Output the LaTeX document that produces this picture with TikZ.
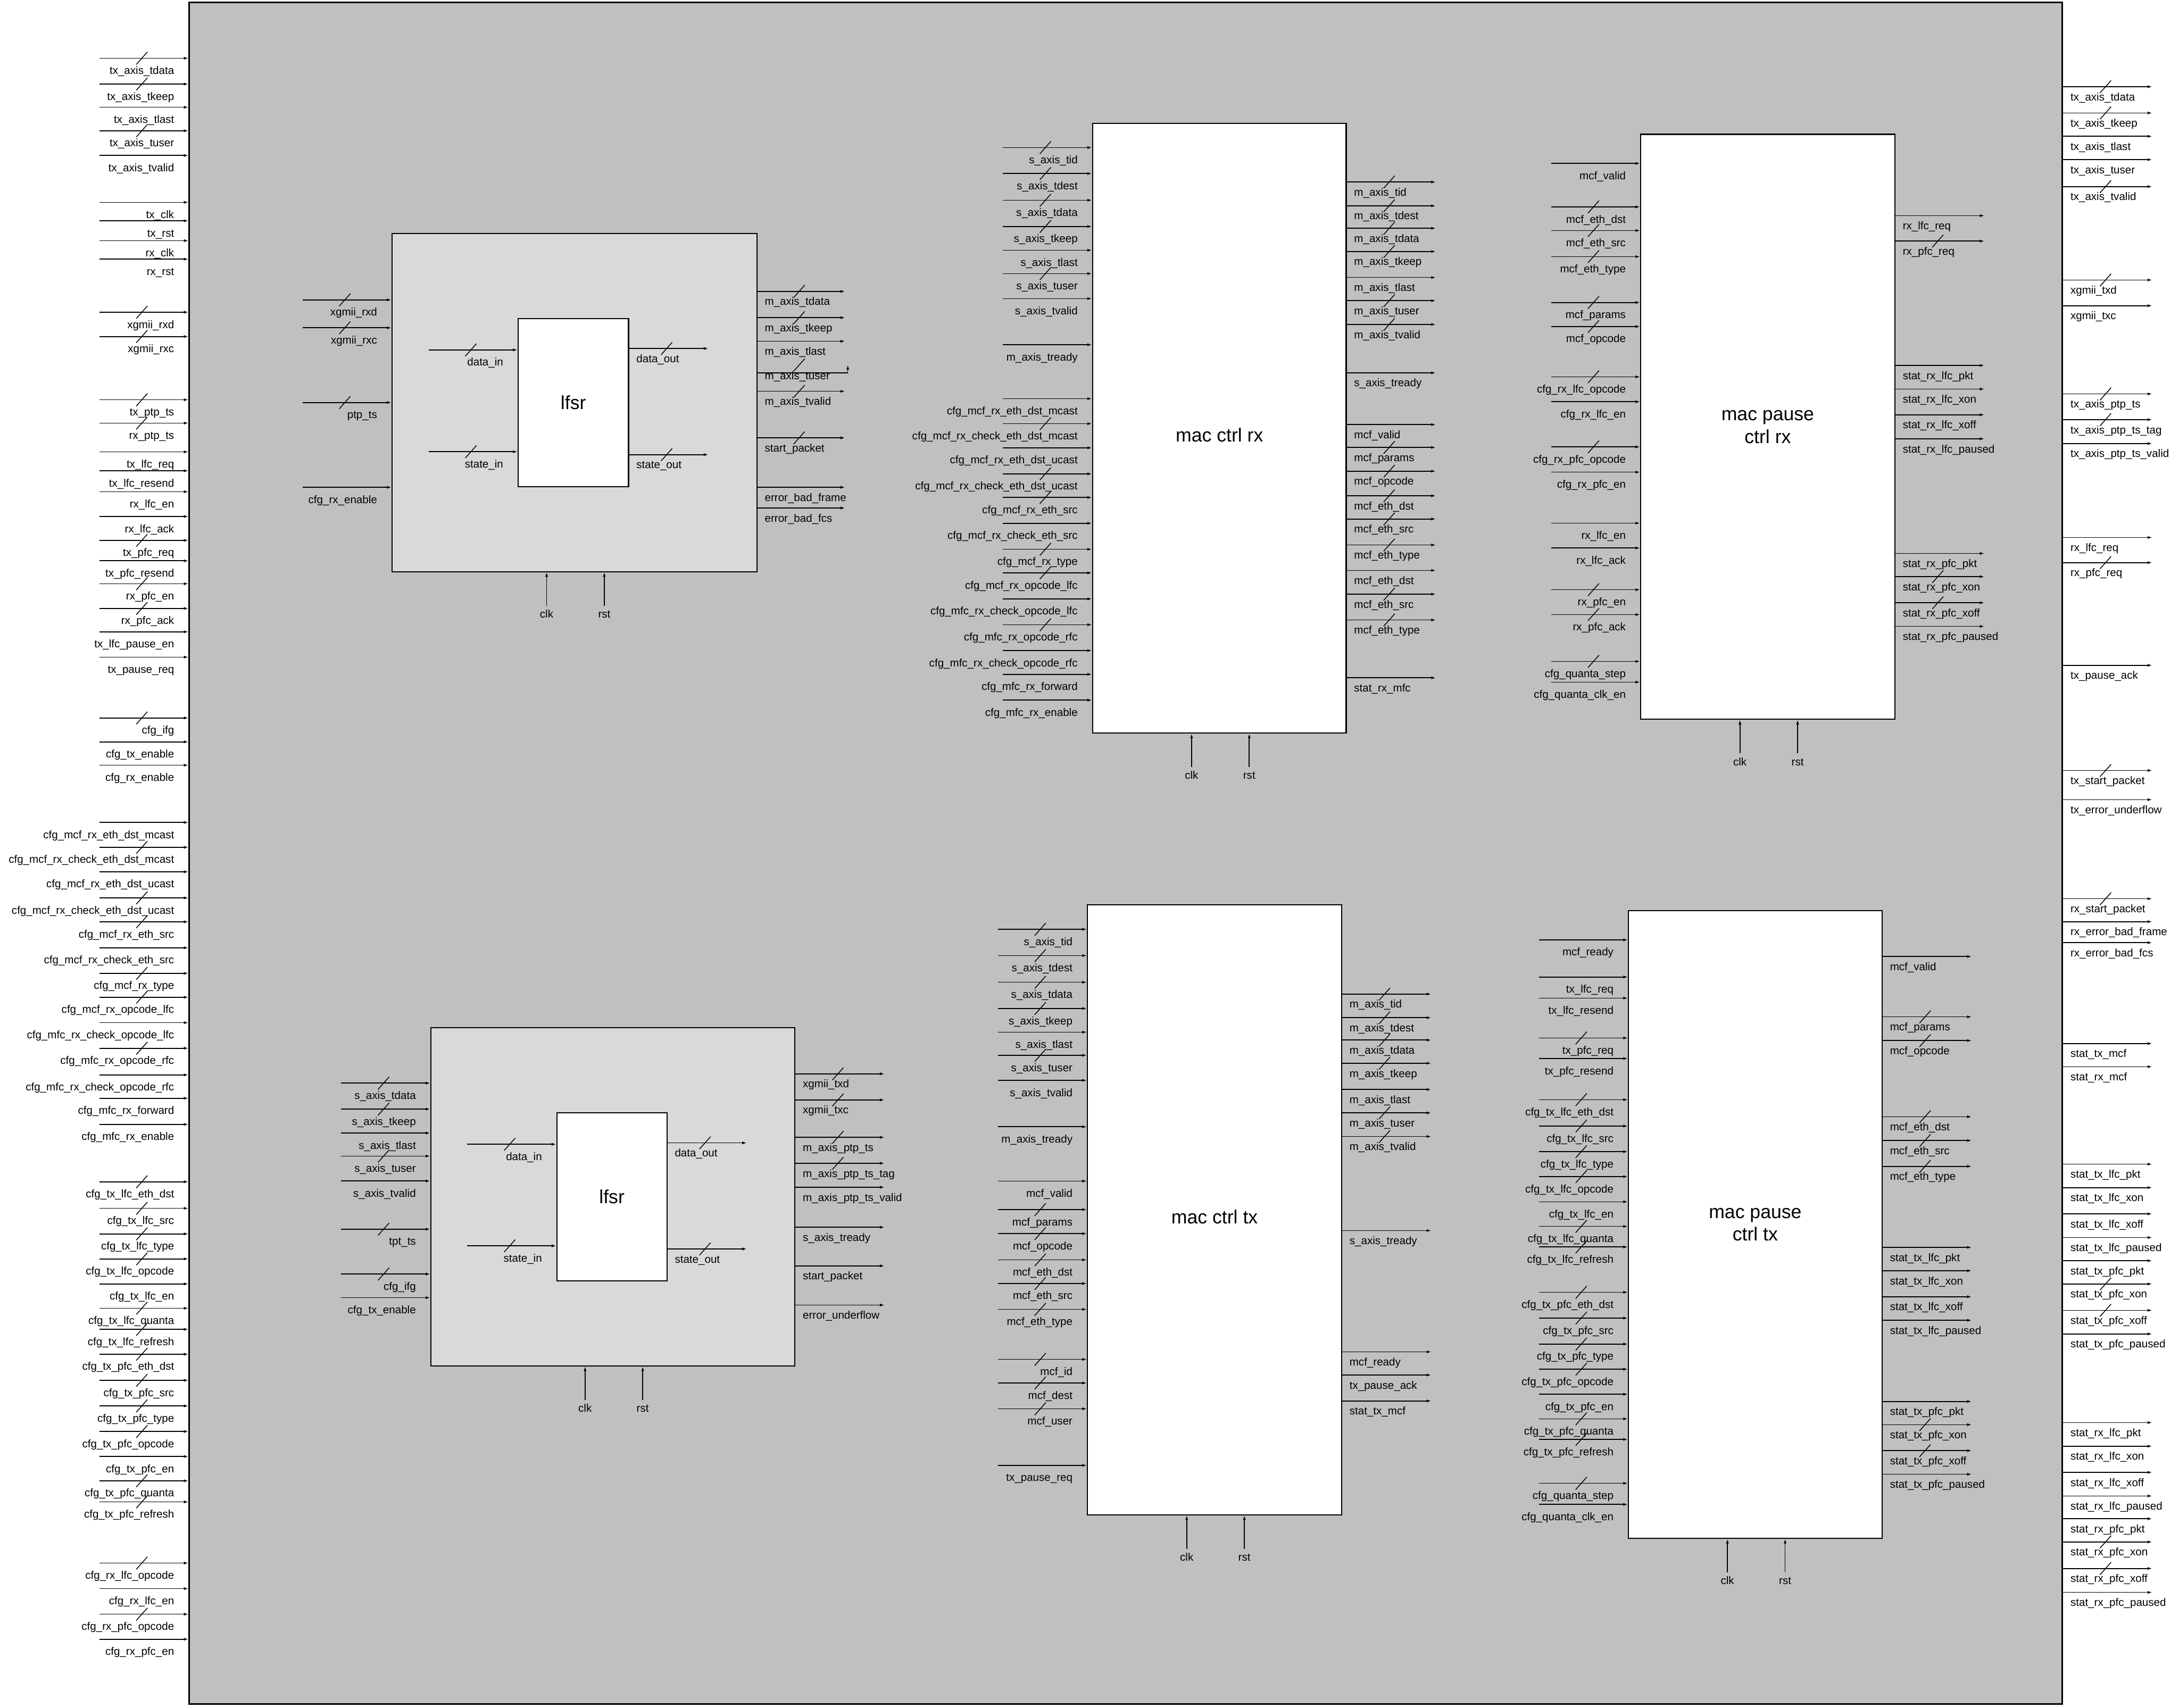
\documentclass[tikz,border=0pt]{standalone}
\usepackage{fontspec}
\setmainfont{Liberation Sans}
\usepackage{tikz}
\usetikzlibrary{arrows.meta}
\definecolor{shellgray}{HTML}{C0C0C0}
\definecolor{wrapgray}{HTML}{D9D9D9}
\tikzset{
  sigline/.style={-{Latex[length=2.3pt,width=1.5pt]}, line width=0.45pt},
  busmark/.style={line width=0.4pt},
  pinlabel/.style={font=\fontsize{5.6}{6.7}\selectfont, inner sep=0pt},
  shellbox/.style={draw, line width=0.8pt, fill=shellgray},
  wrapbox/.style={draw, line width=0.6pt, fill=wrapgray},
  corebox/.style={draw, line width=0.6pt, fill=white, align=center,
    font=\fontsize{9.7}{11.6}\selectfont},
  blocktitle/.style={font=\fontsize{9.7}{11.6}\selectfont, align=center},
}

% input pins: #1 block, #2 name prefix, #3 length, #4 list y/text/bus
\newcommand{\inpins}[4]{%
  \foreach \y/\txt/\bus [count=\i] in {#4} {
    \path (#1.west |- 0,\y) ++(-#3,0) coordinate (#2\i);
    \draw[sigline] (#2\i) -- (#2\i -| #1.west);
    \ifnum\bus=1 \draw[busmark] (#2\i) ++({#3/2-5.5},4.5) -- ++(8,-9);\fi
    \path (#2\i -| #1.west) ++(-10,11.5) node[pinlabel, anchor=base east] (#2\i-t) {\txt};
  }%
}
% output pins: same arguments
\newcommand{\outpins}[4]{%
  \foreach \y/\txt/\bus [count=\i] in {#4} {
    \path (#1.east |- 0,\y) ++(#3,0) coordinate (#2\i);
    \draw[sigline] (#2\i -| #1.east) -- (#2\i);
    \ifnum\bus=1 \draw[busmark] (#2\i -| #1.east) ++({#3/2-5.5},4.5) -- ++(8,-9);\fi
    \path (#2\i -| #1.east) ++(5,10) node[pinlabel, anchor=base west] (#2\i-t) {\txt};
  }%
}
% clock and reset from below
\newcommand{\clkrst}[1]{%
  \path (#1.south) ++(-20,24) coordinate (#1-clk);
  \path (#1.south) ++(21.5,24) coordinate (#1-rst);
  \draw[sigline] (#1-clk) -- (#1-clk |- #1.south);
  \draw[sigline] (#1-rst) -- (#1-rst |- #1.south);
  \path (#1-clk) ++(0,8.8) node[pinlabel, anchor=base] (#1-clk-t) {clk};
  \path (#1-rst) ++(0,8.8) node[pinlabel, anchor=base] (#1-rst-t) {rst};
}

\begin{document}
\begin{tikzpicture}[x=0.025cm, y=-0.025cm]
  \useasboundingbox (0,0) rectangle (1568,1229);

  % Outer wrapper
  \node[shellbox, minimum width=33.69cm, minimum height=30.6cm] (shell) at (810.1,614) {};

  % Blocks
  \node[wrapbox, minimum width=6.5625cm, minimum height=6.0825cm] (lfrx) at (413.35,289.75) {};
  \node[corebox, minimum width=1.9875cm, minimum height=3.02cm] (lfrxc) at (412.55,289.8) {lfsr};
  \node[wrapbox, minimum width=6.55cm, minimum height=6.0875cm] (lftx) at (441,861.25) {};
  \node[corebox, minimum width=1.98cm, minimum height=3.025cm] (lftxc) at (440.3,861.3) {lfsr};

  \node[corebox, minimum width=4.5625cm, minimum height=10.9675cm] (mcrx) at (877.45,308.15) {};
  \node[blocktitle] (mcrx-name) at (877.5,313) {mac ctrl rx};
  \node[corebox, minimum width=4.5725cm, minimum height=10.975cm] (mctx) at (873.95,870.6) {};
  \node[blocktitle] (mctx-name) at (874,875.8) {mac ctrl tx};

  \node[corebox, minimum width=4.5725cm, minimum height=10.5225cm] (mprx) at (1272.05,307.15) {mac pause\\ctrl rx};
  \node[corebox, minimum width=4.5625cm, minimum height=11.29cm] (mptx) at (1263.05,881.3) {mac pause\\ctrl tx};

  % Top level ports
  \inpins{shell}{shell-in}{64}{41.9/tx\_axis\_tdata/1, 60.5/tx\_axis\_tkeep/1,
    77.2/tx\_axis\_tlast/0, 94.1/tx\_axis\_tuser/1, 111.9/tx\_axis\_tvalid/0,
    145.6/tx\_clk/0, 158.9/tx\_rst/0, 173.2/rx\_clk/0, 186.5/rx\_rst/0,
    224.7/xgmii\_rxd/1, 242.2/xgmii\_rxc/1,
    287.7/tx\_ptp\_ts/1, 304.5/rx\_ptp\_ts/1, 325.2/tx\_lfc\_req/0,
    338.8/tx\_lfc\_resend/0, 353.9/rx\_lfc\_en/0, 371.7/rx\_lfc\_ack/0,
    388.9/tx\_pfc\_req/1, 403.6/tx\_pfc\_resend/0, 420.1/rx\_pfc\_en/1,
    437.9/rx\_pfc\_ack/1, 454.7/tx\_lfc\_pause\_en/0, 472.9/tx\_pause\_req/0,
    516.7/cfg\_ifg/1, 533.9/cfg\_tx\_enable/0, 550.7/cfg\_rx\_enable/0,
    591.9/cfg\_mcf\_rx\_eth\_dst\_mcast/0, 609.8/cfg\_mcf\_rx\_check\_eth\_dst\_mcast/1,
    627.4/cfg\_mcf\_rx\_eth\_dst\_ucast/0, 646.2/cfg\_mcf\_rx\_check\_eth\_dst\_ucast/1,
    663.4/cfg\_mcf\_rx\_eth\_src/1, 682.1/cfg\_mcf\_rx\_check\_eth\_src/0,
    700.5/cfg\_mcf\_rx\_type/1, 717.7/cfg\_mcf\_rx\_opcode\_lfc/1,
    736/cfg\_mfc\_rx\_check\_opcode\_lfc/0, 754.4/cfg\_mfc\_rx\_opcode\_rfc/1,
    773.6/cfg\_mfc\_rx\_check\_opcode\_rfc/0, 790.4/cfg\_mfc\_rx\_forward/0,
    809.2/cfg\_mfc\_rx\_enable/0,
    850.5/cfg\_tx\_lfc\_eth\_dst/1, 869.6/cfg\_tx\_lfc\_src/1, 888/cfg\_tx\_lfc\_type/1,
    906/cfg\_tx\_lfc\_opcode/1, 924/cfg\_tx\_lfc\_en/0, 941.5/cfg\_tx\_lfc\_quanta/1,
    956.7/cfg\_tx\_lfc\_refresh/1, 974.6/cfg\_tx\_pfc\_eth\_dst/1, 993.4/cfg\_tx\_pfc\_src/1,
    1011.8/cfg\_tx\_pfc\_type/1, 1030.2/cfg\_tx\_pfc\_opcode/1, 1048.2/cfg\_tx\_pfc\_en/0,
    1065.7/cfg\_tx\_pfc\_quanta/1, 1080.9/cfg\_tx\_pfc\_refresh/1,
    1124.9/cfg\_rx\_lfc\_opcode/1, 1143.3/cfg\_rx\_lfc\_en/0,
    1161.7/cfg\_rx\_pfc\_opcode/1, 1179.7/cfg\_rx\_pfc\_en/0}
  \outpins{shell}{shell-out}{64}{62.4/tx\_axis\_tdata/1, 81.3/tx\_axis\_tkeep/1,
    98.1/tx\_axis\_tlast/0, 114.9/tx\_axis\_tuser/0, 134.3/tx\_axis\_tvalid/1,
    201.5/xgmii\_txd/1, 220/xgmii\_txc/0,
    283.5/tx\_axis\_ptp\_ts/1, 302/tx\_axis\_ptp\_ts\_tag/1, 319.2/tx\_axis\_ptp\_ts\_valid/0,
    386.8/rx\_lfc\_req/0, 404.9/rx\_pfc\_req/1, 478.8/tx\_pause\_ack/0,
    554.5/tx\_start\_packet/1, 575.5/tx\_error\_underflow/0,
    646.8/rx\_start\_packet/1, 663.3/rx\_error\_bad\_frame/0, 678.4/rx\_error\_bad\_fcs/0,
    751/stat\_tx\_mcf/0, 767.7/stat\_rx\_mcf/0,
    837.8/stat\_tx\_lfc\_pkt/0, 854.7/stat\_tx\_lfc\_xon/0, 873.6/stat\_tx\_lfc\_xoff/0,
    890.6/stat\_tx\_lfc\_paused/0, 907.3/stat\_tx\_pfc\_pkt/0, 924/stat\_tx\_pfc\_xon/1,
    943/stat\_tx\_pfc\_xoff/1, 960/stat\_tx\_pfc\_paused/0,
    1023.8/stat\_rx\_lfc\_pkt/0, 1040.8/stat\_rx\_lfc\_xon/0, 1059.6/stat\_rx\_lfc\_xoff/0,
    1076.6/stat\_rx\_lfc\_paused/0, 1093/stat\_rx\_pfc\_pkt/0, 1109.7/stat\_rx\_pfc\_xon/1,
    1128.8/stat\_rx\_pfc\_xoff/1, 1146/stat\_rx\_pfc\_paused/0}

  % LFSR rx wrapper
  \inpins{lfrx}{lfrx-in}{64}{215.8/xgmii\_rxd/1, 235.9/xgmii\_rxc/1,
    289.7/ptp\_ts/1, 350.7/cfg\_rx\_enable/0}
  \outpins{lfrx}{lfrx-out}{63}{209.7/m\_axis\_tdata/1, 228.6/m\_axis\_tkeep/1,
    245.6/m\_axis\_tlast/0, 281.6/m\_axis\_tvalid/1, 315.1/start\_packet/1,
    350.7/error\_bad\_frame/0, 365.6/error\_bad\_fcs/0}
  \path (lfrx.east |- 0,268.4) ++(65,0) coordinate (lfrx-tuser);
  \path (lfrx-tuser) ++(0,-5.7) coordinate (lfrx-tuser-end);
  \draw[sigline] (lfrx-tuser -| lfrx.east) -- (lfrx-tuser) -- (lfrx-tuser-end);
  \draw[busmark] (lfrx.east |- 0,262.7) ++(26,4.5) -- ++(8,-9);
  \path (lfrx-tuser -| lfrx.east) ++(5,4.8) node[pinlabel, anchor=base west] (lfrx-tuser-t) {m\_axis\_tuser};
  \inpins{lfrxc}{lfrxc-in}{64}{251.8/data\_in/1, 325.1/state\_in/1}
  \outpins{lfrxc}{lfrxc-out}{57}{250.8/data\_out/1, 327.2/state\_out/1}
  \clkrst{lfrx}

  % LFSR tx wrapper
  \inpins{lftx}{lftx-in}{64}{779.5/s\_axis\_tdata/1, 798.2/s\_axis\_tkeep/1,
    815.4/s\_axis\_tlast/0, 832/s\_axis\_tuser/1, 849.9/s\_axis\_tvalid/0,
    884.6/tpt\_ts/1, 916.9/cfg\_ifg/1, 933.9/cfg\_tx\_enable/0}
  \outpins{lftx}{lftx-out}{64}{772.8/xgmii\_txd/1, 791.6/xgmii\_txc/1,
    818.5/m\_axis\_ptp\_ts/1, 837.2/m\_axis\_ptp\_ts\_tag/1, 854.4/m\_axis\_ptp\_ts\_valid/0,
    883.2/s\_axis\_tready/0, 911/start\_packet/0, 939.2/error\_underflow/0}
  \inpins{lftxc}{lftxc-in}{64}{823.5/data\_in/1, 896.6/state\_in/1}
  \outpins{lftxc}{lftxc-out}{57}{822.5/data\_out/1, 898.8/state\_out/1}
  \clkrst{lftx}

  % MAC control rx
  \inpins{mcrx}{mcrx-in}{64}{106.2/s\_axis\_tid/1, 124.9/s\_axis\_tdest/1,
    144.1/s\_axis\_tdata/1, 163/s\_axis\_tkeep/1, 180.1/s\_axis\_tlast/0,
    196.9/s\_axis\_tuser/1, 214.9/s\_axis\_tvalid/0, 248.1/m\_axis\_tready/0,
    286.9/cfg\_mcf\_rx\_eth\_dst\_mcast/0, 304.9/cfg\_mcf\_rx\_check\_eth\_dst\_mcast/1,
    322.3/cfg\_mcf\_rx\_eth\_dst\_ucast/0, 341/cfg\_mcf\_rx\_check\_eth\_dst\_ucast/1,
    358/cfg\_mcf\_rx\_eth\_src/1, 376.6/cfg\_mcf\_rx\_check\_eth\_src/0,
    395.3/cfg\_mcf\_rx\_type/1, 412.3/cfg\_mcf\_rx\_opcode\_lfc/1,
    431/cfg\_mfc\_rx\_check\_opcode\_lfc/0, 449.6/cfg\_mfc\_rx\_opcode\_rfc/1,
    468.2/cfg\_mfc\_rx\_check\_opcode\_rfc/0, 485.3/cfg\_mfc\_rx\_forward/0,
    503.9/cfg\_mfc\_rx\_enable/0}
  \outpins{mcrx}{mcrx-out}{64}{131/m\_axis\_tid/1, 148.1/m\_axis\_tdest/1,
    164.3/m\_axis\_tdata/1, 181/m\_axis\_tkeep/1, 199.7/m\_axis\_tlast/0,
    216.4/m\_axis\_tuser/1, 233.5/m\_axis\_tvalid/1, 268.3/s\_axis\_tready/0,
    305.6/mcf\_valid/0, 322/mcf\_params/1, 339.1/mcf\_opcode/1,
    356.8/mcf\_eth\_dst/1, 373.5/mcf\_eth\_src/1, 392.2/mcf\_eth\_type/1,
    410.5/mcf\_eth\_dst/0, 427.6/mcf\_eth\_src/1, 446.2/mcf\_eth\_type/1,
    487.8/stat\_rx\_mfc/0}
  \clkrst{mcrx}

  % MAC control tx
  \inpins{mctx}{mctx-in}{64}{668.8/s\_axis\_tid/1, 687.7/s\_axis\_tdest/1,
    706.9/s\_axis\_tdata/1, 725.8/s\_axis\_tkeep/1, 742.8/s\_axis\_tlast/0,
    759.5/s\_axis\_tuser/1, 777.5/s\_axis\_tvalid/0, 810.9/m\_axis\_tready/0,
    850/mcf\_valid/0, 870.5/mcf\_params/1, 887.8/mcf\_opcode/1,
    906.7/mcf\_eth\_dst/1, 923.7/mcf\_eth\_src/1, 942.3/mcf\_eth\_type/1,
    978.3/mcf\_id/1, 995.3/mcf\_dest/1, 1013.9/mcf\_user/1, 1054.6/tx\_pause\_req/0}
  \outpins{mctx}{mctx-out}{64}{715.4/m\_axis\_tid/1, 732.4/m\_axis\_tdest/1,
    748.5/m\_axis\_tdata/1, 765.2/m\_axis\_tkeep/1, 784.1/m\_axis\_tlast/0,
    800.9/m\_axis\_tuser/1, 817.9/m\_axis\_tvalid/1, 885.6/s\_axis\_tready/0,
    972.9/mcf\_ready/0, 989.6/tx\_pause\_ack/0, 1008.2/stat\_tx\_mcf/0}
  \clkrst{mctx}

  % MAC pause control rx
  \inpins{mprx}{mprx-in}{64}{117.6/mcf\_valid/0, 148.9/mcf\_eth\_dst/1,
    165.9/mcf\_eth\_src/1, 184.7/mcf\_eth\_type/1, 217.7/mcf\_params/1,
    235/mcf\_opcode/1, 271.2/cfg\_rx\_lfc\_opcode/1, 289.1/cfg\_rx\_lfc\_en/0,
    321.6/cfg\_rx\_pfc\_opcode/1, 339.8/cfg\_rx\_pfc\_en/0,
    376.5/rx\_lfc\_en/0, 394.4/rx\_lfc\_ack/0, 424.4/rx\_pfc\_en/1, 442.3/rx\_pfc\_ack/1,
    476/cfg\_quanta\_step/1, 490.9/cfg\_quanta\_clk\_en/0}
  \outpins{mprx}{mprx-out}{64}{155.2/rx\_lfc\_req/0, 173.5/rx\_pfc\_req/1,
    263/stat\_rx\_lfc\_pkt/0, 280/stat\_rx\_lfc\_xon/0, 298.5/stat\_rx\_lfc\_xoff/0,
    315.8/stat\_rx\_lfc\_paused/0, 398.3/stat\_rx\_pfc\_pkt/0, 415/stat\_rx\_pfc\_xon/1,
    433.8/stat\_rx\_pfc\_xoff/1, 450.8/stat\_rx\_pfc\_paused/0}
  \clkrst{mprx}

  % MAC pause control tx
  \inpins{mptx}{mptx-in}{64}{676.4/mcf\_ready/0, 703.1/tx\_lfc\_req/0,
    718.3/tx\_lfc\_resend/0, 747/tx\_pfc\_req/1, 761.8/tx\_pfc\_resend/0,
    791.4/cfg\_tx\_lfc\_eth\_dst/1, 810.4/cfg\_tx\_lfc\_src/1, 828.8/cfg\_tx\_lfc\_type/1,
    846.8/cfg\_tx\_lfc\_opcode/1, 864.9/cfg\_tx\_lfc\_en/0, 882.6/cfg\_tx\_lfc\_quanta/1,
    897.4/cfg\_tx\_lfc\_refresh/1, 930/cfg\_tx\_pfc\_eth\_dst/1, 948.6/cfg\_tx\_pfc\_src/1,
    967.3/cfg\_tx\_pfc\_type/1, 985.4/cfg\_tx\_pfc\_opcode/1, 1003.4/cfg\_tx\_pfc\_en/0,
    1021.1/cfg\_tx\_pfc\_quanta/1, 1035.9/cfg\_tx\_pfc\_refresh/1,
    1067.5/cfg\_quanta\_step/1, 1082.7/cfg\_quanta\_clk\_en/0}
  \outpins{mptx}{mptx-out}{64}{688.4/mcf\_valid/0, 731.8/mcf\_params/1,
    748.9/mcf\_opcode/1, 803.7/mcf\_eth\_dst/1, 820.8/mcf\_eth\_src/1, 839.4/mcf\_eth\_type/1,
    897.7/stat\_tx\_lfc\_pkt/0, 914.5/stat\_tx\_lfc\_xon/0, 933.2/stat\_tx\_lfc\_xoff/0,
    950.2/stat\_tx\_lfc\_paused/0, 1008.6/stat\_tx\_pfc\_pkt/0, 1025.3/stat\_tx\_pfc\_xon/1,
    1044/stat\_tx\_pfc\_xoff/1, 1061/stat\_tx\_pfc\_paused/0}
  \clkrst{mptx}
\end{tikzpicture}
\end{document}
